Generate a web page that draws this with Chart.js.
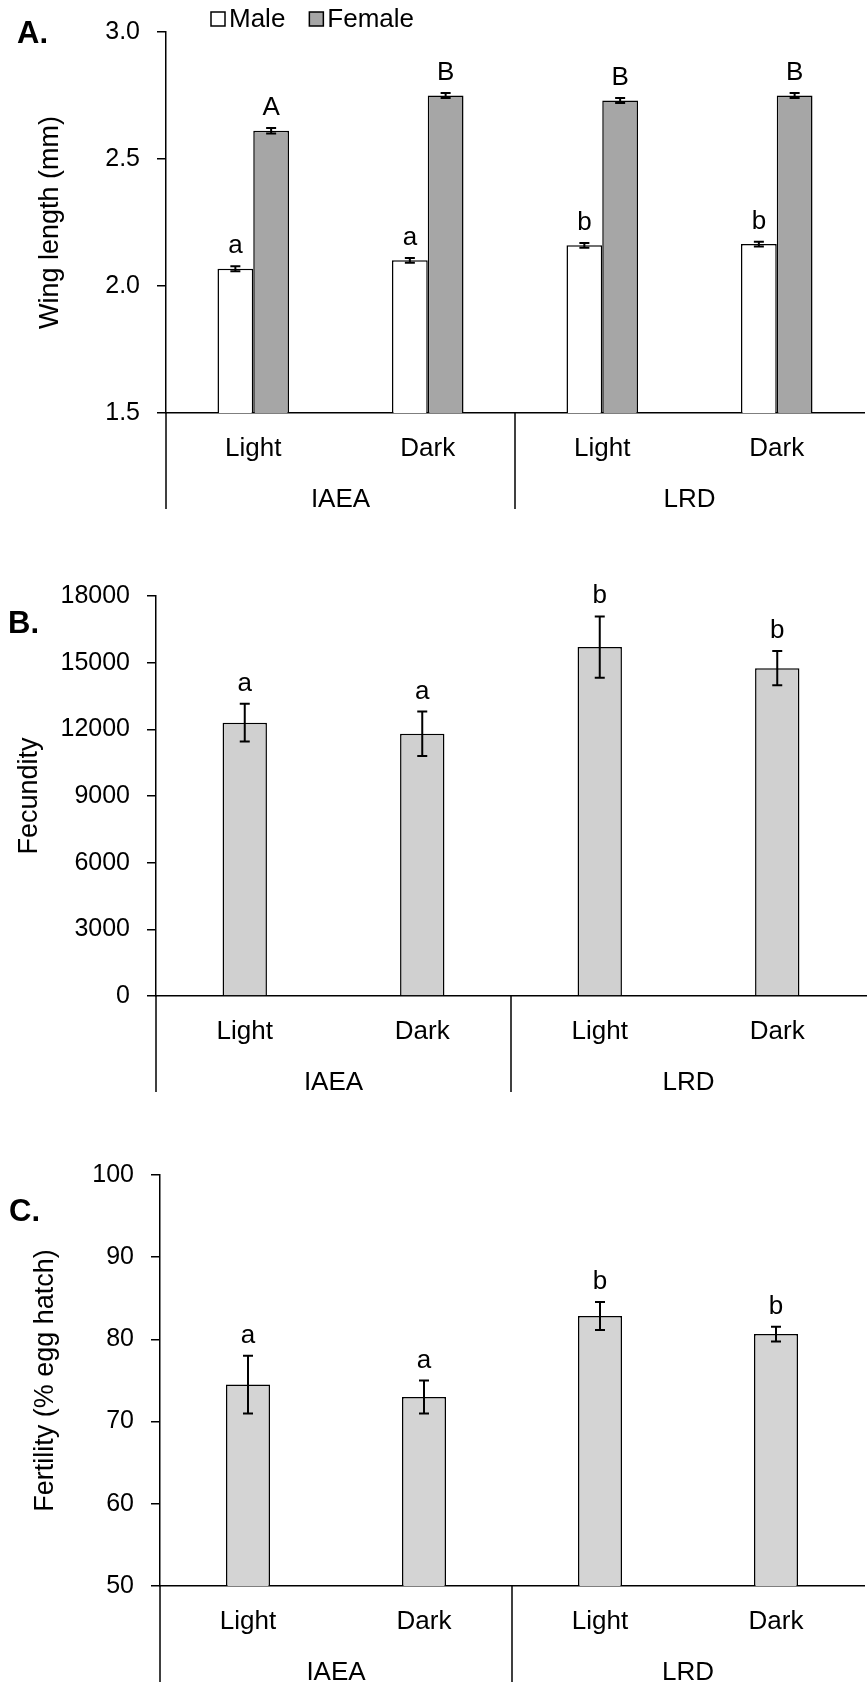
<!DOCTYPE html>
<html>
<head>
<meta charset="utf-8">
<script src="https://cdn.jsdelivr.net/npm/chart.js@4.4.1/dist/chart.umd.min.js"></script>
<style>
  body { margin: 0; background: #fff; width: 868px; height: 1682px; overflow: hidden; }
  .panel { position: absolute; left: 0; width: 868px; }
  canvas { display: block; }
</style>
</head>
<body>
<div class="panel" style="top:0;height:540px"><canvas id="wing"></canvas></div>
<div class="panel" style="top:540px;height:560px"><canvas id="fecundity"></canvas></div>
<div class="panel" style="top:1100px;height:582px"><canvas id="fertility"></canvas></div>

<script>
// categories
const photoperiod = ['Light', 'Dark', 'Light', 'Dark'];
const strains = ['IAEA', 'LRD'];

// A. wing length (mm)
const wingMale = [2.068, 2.101, 2.160, 2.165];
const wingMaleErr = [0.010, 0.009, 0.009, 0.009];
const wingMaleLetters = ['a', 'a', 'b', 'b'];
const wingFemale = [2.611, 2.750, 2.730, 2.750];
const wingFemaleErr = [0.011, 0.010, 0.010, 0.010];
const wingFemaleLetters = ['A', 'B', 'B', 'B'];
const wingTicks = [1.5, 2.0, 2.5, 3.0];

// B. fecundity
const fecundity = [12300, 11800, 15700, 14750];
const fecundityErr = [850, 1000, 1380, 770];
const fecundityLetters = ['a', 'a', 'b', 'b'];
const fecundityTicks = [0, 3000, 6000, 9000, 12000, 15000, 18000];

// C. fertility (% egg hatch)
const fertility = [74.5, 73.0, 82.85, 80.65];
const fertilityErr = [3.5, 2.0, 1.7, 0.9];
const fertilityLetters = ['a', 'a', 'b', 'b'];
const fertilityTicks = [50, 60, 70, 80, 90, 100];

const FONT = '"Liberation Sans", Arial, sans-serif';
Chart.defaults.font.family = FONT;
Chart.defaults.font.size = 26;
Chart.defaults.color = '#000';

// error bars + significance letters, drawn through the y scale
const errorBars = {
  id: 'errorBars',
  afterDatasetsDraw(chart, args, opts) {
    const ctx = chart.ctx;
    const y = chart.scales.y;
    ctx.save();
    chart.data.datasets.forEach((ds, di) => {
      const meta = chart.getDatasetMeta(di);
      meta.data.forEach((bar, i) => {
        const v = ds.data[i];
        const e = ds.errors[i];
        const top = y.getPixelForValue(v + e);
        const bot = y.getPixelForValue(v - e);
        ctx.strokeStyle = '#000';
        ctx.lineWidth = opts.lineWidth;
        ctx.beginPath();
        ctx.moveTo(bar.x, top); ctx.lineTo(bar.x, bot);
        ctx.moveTo(bar.x - opts.cap, top); ctx.lineTo(bar.x + opts.cap, top);
        ctx.moveTo(bar.x - opts.cap, bot); ctx.lineTo(bar.x + opts.cap, bot);
        ctx.stroke();
        ctx.fillStyle = '#000';
        ctx.font = '26px ' + FONT;
        ctx.textAlign = 'center';
        ctx.textBaseline = 'alphabetic';
        ctx.fillText(ds.letters[i], bar.x, top - opts.gap);
      });
    });
    ctx.restore();
  }
};

// second level of the category axis (strain) with divider lines
const groupAxis = {
  id: 'groupAxis',
  afterDraw(chart, args, opts) {
    const ctx = chart.ctx;
    const x = chart.scales.x;
    const y0 = x.top;
    ctx.save();
    ctx.strokeStyle = '#000';
    ctx.lineWidth = 1.5;
    const edges = [x.left, (x.getPixelForValue(1) + x.getPixelForValue(2)) / 2];
    edges.forEach(px => {
      ctx.beginPath();
      ctx.moveTo(px, y0);
      ctx.lineTo(px, y0 + opts.lineLength);
      ctx.stroke();
    });
    ctx.fillStyle = '#000';
    ctx.font = '26px ' + FONT;
    ctx.textAlign = 'center';
    ctx.textBaseline = 'middle';
    opts.groups.forEach((g, gi) => {
      const cx = (x.getPixelForValue(gi * 2) + x.getPixelForValue(gi * 2 + 1)) / 2;
      ctx.fillText(g, cx, y0 + opts.labelOffset);
    });
    ctx.restore();
  }
};

// panel letter (A., B., C.)
const panelTag = {
  id: 'panelTag',
  afterDraw(chart, args, opts) {
    const ctx = chart.ctx;
    ctx.save();
    ctx.fillStyle = '#000';
    ctx.font = 'bold 31px ' + FONT;
    ctx.textAlign = 'left';
    ctx.textBaseline = 'middle';
    ctx.fillText(opts.text, opts.x, opts.y);
    ctx.restore();
  }
};

// small square legend in the top-left of panel A
const squareLegend = {
  id: 'squareLegend',
  afterDraw(chart, args, opts) {
    if (!opts.show) return;
    const ctx = chart.ctx;
    ctx.save();
    ctx.font = '26px ' + FONT;
    ctx.textBaseline = 'middle';
    ctx.textAlign = 'left';
    let px = chart.chartArea.left + opts.offsetX;
    const cy = opts.y;
    chart.data.datasets.forEach(ds => {
      ctx.fillStyle = ds.backgroundColor;
      ctx.fillRect(px, cy - 7, 14, 14);
      ctx.strokeStyle = '#000';
      ctx.lineWidth = 1.5;
      ctx.strokeRect(px, cy - 7, 14, 14);
      ctx.fillStyle = '#000';
      ctx.fillText(ds.label, px + 18, cy + 1);
      px += 18 + ctx.measureText(ds.label).width + 24;
    });
    ctx.restore();
  }
};

function makeChart(id, h, cfg) {
  const canvas = document.getElementById(id);
  canvas.style.width = '868px';
  canvas.style.height = h + 'px';
  return new Chart(canvas, {
    type: 'bar',
    data: { labels: photoperiod, datasets: cfg.datasets },
    plugins: [errorBars, groupAxis, panelTag, squareLegend],
    options: {
      responsive: false,
      animation: false,
      devicePixelRatio: 1,
      layout: { padding: { top: cfg.top, right: cfg.right, left: 0, bottom: 0 } },
      plugins: {
        legend: { display: false },
        tooltip: { enabled: false },
        errorBars: { lineWidth: 2, cap: 5, gap: 13 },
        groupAxis: { groups: strains, lineLength: 96, labelOffset: 87 },
        panelTag: cfg.tag,
        squareLegend: { show: !!cfg.legend, offsetX: 45, y: 19 }
      },
      scales: {
        x: {
          offset: true,
          grid: { display: false },
          border: { display: true, color: '#000', width: 1.5 },
          ticks: { padding: 12, font: { size: 26 }, maxRotation: 0 },
          afterFit(scale) { scale.height = cfg.xHeight; }
        },
        y: {
          min: cfg.ticks[0],
          max: cfg.ticks[cfg.ticks.length - 1],
          afterBuildTicks(scale) { scale.ticks = cfg.ticks.map(v => ({ value: v })); },
          grid: { drawOnChartArea: false, drawTicks: true, tickLength: 9, color: '#000', lineWidth: 1.5 },
          border: { display: true, color: '#000', width: 1.5 },
          ticks: { padding: 17, font: { size: 25 }, callback: cfg.fmt },
          title: { display: true, text: cfg.title, font: { size: 27 }, padding: { top: cfg.titlePad, bottom: 0 } },
          afterFit(scale) { scale.width = cfg.yWidth; }
        }
      }
    }
  });
}

const barStyle = { borderColor: '#000', borderWidth: 1.5, barPercentage: 1.0 };

makeChart('wing', 540, {
  top: 24, right: 4, xHeight: 127, yWidth: 166, titlePad: 34,
  ticks: wingTicks, fmt: v => Number(v).toFixed(1),
  title: 'Wing length (mm)',
  tag: { text: 'A.', x: 17, y: 34 },
  legend: true,
  datasets: [
    Object.assign({ label: 'Male', data: wingMale, errors: wingMaleErr, letters: wingMaleLetters,
      backgroundColor: '#ffffff', categoryPercentage: 0.41 }, barStyle),
    Object.assign({ label: 'Female', data: wingFemale, errors: wingFemaleErr, letters: wingFemaleLetters,
      backgroundColor: '#a6a6a6', categoryPercentage: 0.41 }, barStyle)
  ]
});

makeChart('fecundity', 560, {
  top: 56, right: 2, xHeight: 104, yWidth: 156, titlePad: 13,
  ticks: fecundityTicks, fmt: v => String(v),
  title: 'Fecundity',
  tag: { text: 'B.', x: 8, y: 84 },
  datasets: [
    Object.assign({ label: 'Fecundity', data: fecundity, errors: fecundityErr, letters: fecundityLetters,
      backgroundColor: '#d0d0d0', categoryPercentage: 0.25 }, barStyle)
  ]
});

makeChart('fertility', 582, {
  top: 75, right: 4, xHeight: 96, yWidth: 160, titlePad: 29,
  ticks: fertilityTicks, fmt: v => String(v),
  title: 'Fertility (% egg hatch)',
  tag: { text: 'C.', x: 9, y: 112 },
  datasets: [
    Object.assign({ label: 'Fertility', data: fertility, errors: fertilityErr, letters: fertilityLetters,
      backgroundColor: '#d4d4d4', categoryPercentage: 0.25 }, barStyle)
  ]
});
</script>
</body>
</html>
